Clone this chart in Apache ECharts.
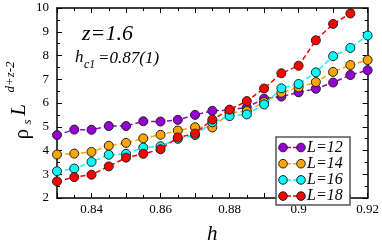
<!DOCTYPE html>
<html><head><meta charset="utf-8">
<script src="https://cdn.jsdelivr.net/npm/echarts@6/dist/echarts.min.js"></script>
<style>html,body{margin:0;padding:0;background:#fff}#c{width:382px;height:250px}</style>
</head><body><div id="c"></div>
<script>
const hValues = [0.83,0.835,0.84,0.845,0.85,0.855,0.86,0.865,0.87,0.875,0.88,0.885,0.89,0.895,0.9,0.905,0.91,0.915,0.92];
const L12 = [4.65,4.88,4.87,5.03,5.03,5.23,5.22,5.29,5.50,5.67,5.70,5.82,6.18,6.27,6.45,6.60,6.86,7.18,7.38];
const L14 = [3.83,3.87,3.94,4.20,4.32,4.51,4.66,4.84,4.98,4.97,5.58,5.66,6.04,6.43,6.66,6.88,7.31,7.60,7.81];
const L16 = [3.13,3.24,3.52,3.82,3.86,4.12,4.18,4.49,4.65,5.19,5.45,5.52,5.94,6.62,6.80,7.29,7.97,8.32,8.84];
const L18 = [2.70,2.88,2.98,3.33,3.70,3.86,4.05,4.55,4.71,5.30,5.72,6.08,6.61,7.25,7.57,8.64,9.33,9.77,10.8];
const seriesNames = ['L=12','L=14','L=16','L=18'];
const seriesData = [L12, L14, L16, L18];
const colors = ['#9400d3','#ffa500','#00ffff','#ff0000'];
const xTickLabels = ['0.84','0.86','0.88','0.9','0.92'];
const yTickLabels = ['2','3','4','5','6','7','8','9','10'];

const SERIF = '"Liberation Serif","DejaVu Serif",serif';
const chart = echarts.init(document.getElementById('c'), null, {renderer:'canvas'});

const baseAxis = {
  axisLine:{show:true, onZero:false, lineStyle:{color:'#000', width:1.5}},
  axisTick:{show:true, inside:true, length:5, lineStyle:{color:'#000', width:1}},
  minorTick:{show:true, splitNumber:2, length:3, lineStyle:{color:'#000', width:1}},
  splitLine:{show:false},
  minorSplitLine:{show:false}
};

const xBase = Object.assign({}, baseAxis, {type:'value', min:0.83, max:0.92, interval:0.01});
const yBase = Object.assign({}, baseAxis, {type:'value', min:2, max:10, interval:1});

function fmtX(v){
  const s = String(parseFloat(v.toFixed(3)));
  return xTickLabels.indexOf(s) >= 0 ? s : '';
}
function fmtY(v){
  const s = String(Math.round(v));
  return yTickLabels.indexOf(s) >= 0 ? s : '';
}

const legendGraphics = [];
const lgX = 276, lgY = 137;
legendGraphics.push({type:'rect', shape:{x:lgX, y:lgY, width:74, height:68}, style:{fill:'#fff', stroke:'#555', lineWidth:1.5}, z:100});
seriesNames.forEach((n,i)=>{
  const cy = lgY + 10.5 + i*16.2;
  legendGraphics.push({type:'line', shape:{x1:287, y1:cy, x2:297, y2:cy}, style:{stroke:colors[i], lineWidth:1.5, lineDash:[4,2]}, z:101});
  legendGraphics.push({type:'circle', shape:{cx:283, cy:cy, r:4.3}, style:{fill:colors[i], stroke:'#222', lineWidth:1}, z:102});
  legendGraphics.push({type:'circle', shape:{cx:301, cy:cy, r:4.3}, style:{fill:colors[i], stroke:'#222', lineWidth:1}, z:102});
  legendGraphics.push({type:'text', x:307, y:cy, style:{text:n, font:'italic 16px '+SERIF, fill:'#000', align:'left', verticalAlign:'middle', textAlign:'left', textVerticalAlign:'middle'}, z:102});
});

function rotText(txt, x, y, font){
  return {type:'text', x:x, y:y, rotation:Math.PI/2, style:{text:txt, font:font, fill:'#000', align:'center', verticalAlign:'middle', textAlign:'center', textVerticalAlign:'middle'}, z:50};
}
function txt(t, x, y, font){
  return {type:'text', x:x, y:y, style:{text:t, font:font, fill:'#000', align:'left', verticalAlign:'middle', textAlign:'left', textVerticalAlign:'middle'}, z:50};
}

const option = {
  backgroundColor:'#fff',
  animation:false,
  grid:{left:57, right:14, top:8, bottom:37, containLabel:false},
  xAxis:[
    Object.assign({}, xBase, {position:'bottom',
      axisLabel:{show:true, margin:5, color:'#000', fontSize:13, fontFamily:SERIF, formatter:fmtX, showMinLabel:true, showMaxLabel:true},
      name:'h', nameLocation:'middle', nameGap:26,
      nameTextStyle:{fontSize:21, fontStyle:'italic', fontFamily:SERIF, color:'#000'}}),
    Object.assign({}, xBase, {position:'top', axisLabel:{show:false}})
  ],
  yAxis:[
    Object.assign({}, yBase, {position:'left',
      axisLabel:{show:true, margin:8, color:'#000', fontSize:13, fontFamily:SERIF, formatter:fmtY}}),
    Object.assign({}, yBase, {position:'right', axisLabel:{show:false}})
  ],
  series: seriesNames.map((n,i)=>({
    name:n, type:'line', xAxisIndex:0, yAxisIndex:0,
    data: hValues.map((h,j)=>[h, seriesData[i][j]]),
    symbol:'circle', symbolSize:9,
    itemStyle:{color:colors[i], borderColor:'#222', borderWidth:1},
    lineStyle:{color:colors[i], width:1.5, type:[5,3]},
    clip:true, z:2+i
  })),
  graphic: [
    rotText('ρ', 22, 134, '21px '+SERIF),
    rotText('s', 28, 122, 'italic 13px '+SERIF),
    rotText('L', 19, 110, 'italic 21px '+SERIF),
    rotText('d+z-2', 11, 77, 'italic 13px '+SERIF),
    txt('z=1.6', 82, 34, 'italic 22px '+SERIF),
    txt('h', 75, 58, 'italic 17px '+SERIF),
    txt('c1', 84, 65, 'italic 12px '+SERIF),
    txt('=0.87(1)', 98, 59, 'italic 17px '+SERIF)
  ].concat(legendGraphics)
};
chart.setOption(option);
</script>
</body></html>
